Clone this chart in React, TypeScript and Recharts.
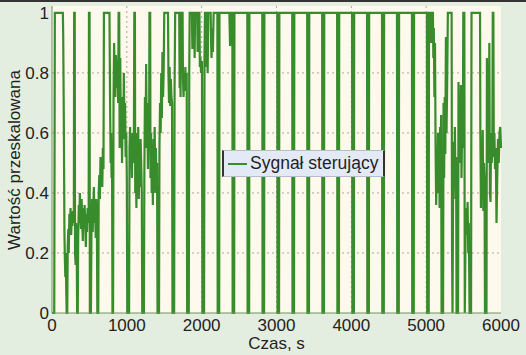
import { CartesianGrid, Label, Legend, Line, LineChart, XAxis, YAxis } from "recharts";

// czas [s] i wartość sygnału sterującego
const czas = [
  0, 30, 38, 145, 150, 158, 166, 172, 178, 184, 190, 196, 204, 210, 218, 224, 232, 240, 248, 256,
  264, 272, 280, 292, 296, 304, 308, 316, 322, 330, 336, 344, 350, 358, 366, 372, 380, 388, 396, 404,
  412, 420, 428, 436, 444, 452, 460, 468, 476, 490, 494, 502, 506, 520, 528, 536, 544, 552, 560, 568,
  576, 584, 592, 600, 606, 618, 624, 632, 640, 648, 656, 664, 672, 680, 688, 694, 768, 772, 778, 784,
  790, 796, 802, 808, 816, 822, 830, 838, 846, 854, 862, 870, 878, 884, 890, 898, 904, 912, 920, 928,
  936, 944, 952, 960, 968, 976, 984, 992, 1000, 1006, 1030, 1036, 1044, 1052, 1060, 1068, 1076, 1084, 1094, 1100,
  1108, 1112, 1120, 1128, 1136, 1144, 1152, 1160, 1168, 1176, 1184, 1192, 1200, 1206, 1228, 1234, 1242, 1250, 1258, 1266,
  1274, 1282, 1290, 1298, 1302, 1312, 1316, 1324, 1332, 1340, 1348, 1356, 1364, 1372, 1380, 1388, 1396, 1404, 1410, 1430,
  1436, 1444, 1452, 1460, 1468, 1476, 1484, 1492, 1500, 1550, 1556, 1564, 1572, 1580, 1588, 1596, 1604, 1610, 1632, 1638,
  1646, 1700, 1706, 1712, 1718, 1724, 1745, 1750, 1758, 1766, 1774, 1782, 1790, 1800, 1806, 1828, 1834, 1840, 1870, 1876,
  1882, 1900, 1906, 1912, 1940, 1946, 1952, 1970, 1976, 1984, 1992, 2004, 2010, 2032, 2038, 2044, 2060, 2066, 2072, 2080,
  2088, 2120, 2126, 2132, 2140, 2150, 2160, 2210,
  2214, 2234, 2238, 2370, 2380, 2390, 2410, 2414, 2434, 2438, 2610, 2614, 2634, 2638, 2810, 2814, 2834, 2838,
  3010, 3014, 3034, 3038, 3210, 3214, 3234, 3238, 3410, 3414, 3434, 3438, 3610, 3614, 3634, 3638,
  3810, 3814, 3834, 3838, 4010, 4014, 4034, 4038, 4210, 4214, 4234, 4238, 4410, 4414, 4434, 4438,
  4610, 4614, 4634, 4638, 4810, 4814, 4834, 4838, 5010, 5014, 5034, 5038,
  5060, 5066, 5072, 5090, 5096, 5102, 5110, 5118, 5126, 5134, 5142, 5150, 5158, 5166, 5174, 5180, 5186, 5194, 5200, 5206,
  5226, 5232, 5240, 5248, 5256, 5264, 5272, 5280, 5290, 5340, 5346, 5352, 5360, 5368, 5376, 5384, 5392, 5400, 5406, 5426,
  5432, 5440, 5448, 5456, 5464, 5472, 5480, 5490, 5496, 5510, 5516, 5530, 5538, 5546, 5554, 5562, 5570, 5580, 5600, 5606,
  5720, 5724, 5732, 5740, 5748, 5756, 5764, 5772, 5780, 5786, 5806, 5812, 5820, 5828, 5836, 5844, 5852, 5860, 5868, 5876,
  5884, 5890, 5898, 5904, 5912, 5920, 5930, 5940, 5950, 5960, 5970, 5980, 5990, 6000,
];

const sygnal = [
  0, 0, 1, 1, 0.92, 0.64, 0.27, 0.18, 0.12, 0.2, 0.08, 0, 0, 0.22, 0.28, 0.2, 0.33, 0.3, 0.35, 0.26,
  0.32, 0.29, 0.34, 0.3, 1, 1, 0.2, 0.16, 0.3, 0.22, 0, 0, 0.25, 0.36, 0.3, 0.4, 0.33, 0.28, 0.38, 0.3,
  0.24, 0.35, 0.28, 0.36, 0.3, 0.22, 0.33, 0.27, 0.35, 0.3, 1, 1, 0, 0, 0.3, 0.38, 0.27, 0.35, 0.42, 0.3,
  0.36, 0.25, 0.38, 0.3, 0, 0, 0.4, 0.46, 0.38, 0.52, 0.44, 0.5, 0.42, 0.55, 0.48, 1, 1, 0.85, 0.65, 0.5,
  0.6, 0.45, 0.55, 0, 0, 0.7, 0.9, 0.78, 0.72, 0.86, 0.8, 0.75, 0.82, 0.7, 1, 1, 0.55, 0.85, 0.6, 0.72,
  0.5, 0.66, 0.58, 0.8, 0.62, 0.7, 0.52, 0.6, 0.45, 0, 0, 0.55, 0.62, 0.48, 0.58, 0.45, 0.6, 0.5, 0.56, 1,
  1, 0.4, 0.5, 0.35, 0.6, 0.45, 0.62, 0.38, 0.55, 0.42, 0.58, 0.5, 0.4, 0, 0, 0.45, 0.72, 0.55, 0.83, 0.6,
  0.7, 0.48, 0.62, 0.55, 1, 1, 0.45, 0.6, 0.4, 0.55, 0.36, 0.58, 0.45, 0.62, 0.4, 0.55, 0.45, 0.5, 0, 0,
  0.55, 0.7, 0.6, 0.8, 0.65, 0.87, 0.72, 0.8, 1, 1, 0.8, 0.7, 0.82, 0.69, 0.78, 0.72, 0.7, 0, 0, 0.75,
  1, 1, 0.75, 0.9, 0.72, 1, 1, 0.78, 0.72, 0.8, 0.74, 0.82, 0.75, 0.8, 0, 0, 0.8, 1, 1, 0.88,
  1, 1, 0.85, 1, 1, 0.87, 1, 1, 0.82, 0.85, 0.8, 0.84, 0, 0, 0.85, 1, 1, 0.82, 0.95, 0.8,
  1, 1, 0.9, 0.85, 0.95, 0.87, 1, 1,
  0, 0, 1, 1, 0.89, 1, 1, 0, 0, 1, 1, 0, 0, 1, 1, 0, 0, 1,
  1, 0, 0, 1, 1, 0, 0, 1, 1, 0, 0, 1, 1, 0, 0, 1,
  1, 0, 0, 1, 1, 0, 0, 1, 1, 0, 0, 1, 1, 0, 0, 1,
  1, 0, 0, 1, 1, 0, 0, 1, 1, 0, 0, 1,
  1, 0.9, 1, 1, 0.85, 0.95, 0.72, 0.9, 0.55, 0.36, 0.5, 0.42, 0.6, 0.4, 0.55, 0.35, 0.62, 0.5, 0.66, 0,
  0, 0.7, 0.45, 0.72, 0.53, 0.92, 0.6, 0.75, 1, 1, 0.2, 0, 0.4, 0.57, 0.45, 0.62, 0.38, 0.52, 0, 0,
  0.77, 0.52, 0.7, 0.5, 0.76, 0.45, 0.6, 0.55, 1, 1, 0, 0.35, 0.3, 0.26, 0.37, 0.2, 0.3, 0, 0, 1,
  1, 0.6, 0.35, 0.55, 0.4, 0.61, 0.34, 0.5, 0.45, 0, 0, 0.85, 0.6, 0.78, 0.5, 0.9, 0.4, 0.37, 0.6, 0.5,
  0.55, 1, 1, 0.52, 0.6, 0.48, 0.55, 0.3, 0.45, 0.58, 0.5, 0.6, 0.62, 0.55,
];

const xTicks = [0, 1000, 2000, 3000, 4000, 5000, 6000];
const yTicks = [0, 0.2, 0.4, 0.6, 0.8, 1];

const SERIES_NAME = "Sygnał sterujący";
const GREEN = "#388c2c";
const FONT = "'Liberation Sans', Arial, sans-serif";

const data = czas.map((t, i) => ({ t, v: sygnal[i] }));

function LegendBox() {
  return (
    <div
      style={{
        boxSizing: "border-box",
        width: 163,
        height: 27,
        background: "#e3eaf6",
        borderTop: "1px solid #b8bcc8",
        borderBottom: "1px solid #b8bcc8",
        borderLeft: "2px solid #333",
        borderRight: "2px solid #333",
        display: "flex",
        alignItems: "center",
        fontFamily: FONT,
        fontSize: 17.5,
        color: "#1e1e2a",
      }}
    >
      <svg width={24} height={10} style={{ marginLeft: 2 }}>
        <line x1={2} y1={5} x2={21} y2={5} stroke={GREEN} strokeWidth={2} />
      </svg>
      <span>{SERIES_NAME}</span>
    </div>
  );
}

function YLabel() {
  return (
    <text
      x={14}
      y={160}
      transform="rotate(-90 14 160)"
      textAnchor="middle"
      dominantBaseline="central"
      fontFamily={FONT}
      fontSize={17}
      fill="#222"
    >
      Wartość przeskalowana
    </text>
  );
}

export default function App() {
  return (
    <div
      style={{
        position: "absolute",
        left: 0,
        top: 0,
        width: 526,
        height: 355,
        background: "#e4eee0",
      }}
    >
      <div style={{ position: "absolute", left: 0, top: 0, width: 526, height: 2, background: "#333" }} />
      <LineChart width={526} height={355} data={data} margin={{ top: 6, right: 25, bottom: 0, left: 0 }}>
        <CartesianGrid
          fill="#fdf9ec"
          stroke="#b2a696"
          strokeDasharray="2 3"
          horizontalValues={[0.2, 0.4, 0.6, 0.8]}
          verticalValues={[1000, 2000, 3000, 4000, 5000]}
        />
        <XAxis
          type="number"
          dataKey="t"
          domain={[0, 6000]}
          ticks={xTicks}
          height={42}
          tickLine={false}
          tickSize={0}
          tickMargin={6}
          axisLine={{ stroke: "#6f9460" }}
          tick={{ fill: "#222", fontSize: 17, fontFamily: FONT }}
          label={{
            value: "Czas, s",
            position: "insideBottom",
            offset: 6,
            fill: "#222",
            fontSize: 17,
            fontFamily: FONT,
          }}
        />
        <XAxis xAxisId="top" orientation="top" type="number" domain={[0, 6000]} height={0} tick={false} tickLine={false} axisLine={{ stroke: "#c8c8b8" }} />
        <YAxis
          type="number"
          domain={[0, 1.023]}
          ticks={yTicks}
          width={52}
          tickLine={false}
          tickSize={0}
          tickMargin={3}
          axisLine={{ stroke: "#6f9460" }}
          tick={{ fill: "#222", fontSize: 17, fontFamily: FONT }}
          label={<Label content={() => <YLabel />} />}
        />
        <YAxis yAxisId="right" orientation="right" domain={[0, 1.023]} width={0} tick={false} tickLine={false} axisLine={{ stroke: "#8aa47c" }} />
        <Legend
          layout="horizontal"
          verticalAlign="middle"
          align="center"
          content={() => <LegendBox />}
          wrapperStyle={{ position: "absolute", left: 222, top: 150, width: 163, height: 27 }}
        />
        <Line
          type="linear"
          dataKey="v"
          name={SERIES_NAME}
          stroke={GREEN}
          strokeWidth={2.2}
          dot={false}
          isAnimationActive={false}
        />
      </LineChart>
    </div>
  );
}
